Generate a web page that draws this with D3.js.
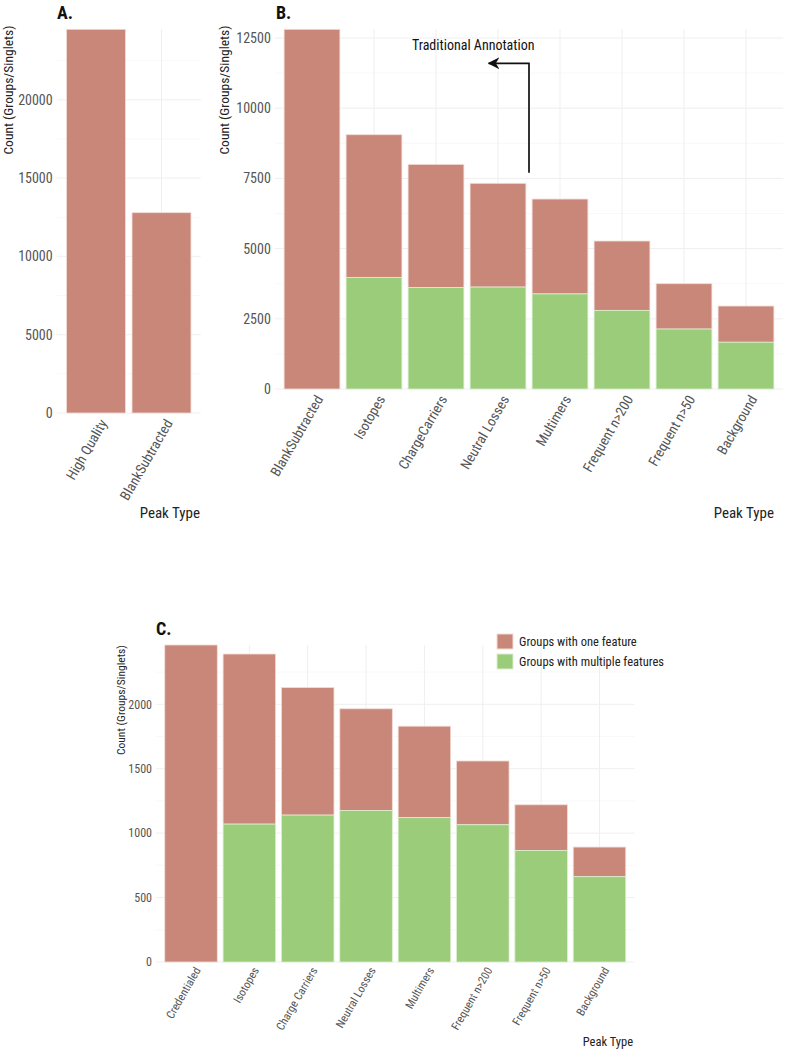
<!DOCTYPE html>
<html>
<head>
<meta charset="utf-8">
<script src="https://cdn.jsdelivr.net/npm/d3@7"></script>
<style>
  body { margin: 0; background: #fff; }
  text { font-family: "Roboto Condensed", Roboto, sans-serif; }
</style>
</head>
<body>
<svg id="fig" width="790" height="1050"></svg>
<script>
const colOne = "#c88778";
const colMulti = "#9acc7a";

// panel A
const catsA = ["High Quality", "BlankSubtracted"];
const totalA = [24500, 12790];
const ticksA = [0, 5000, 10000, 15000, 20000];

// panel B
const catsB = ["BlankSubtracted", "Isotopes", "ChargeCarriers", "Neutral Losses",
  "Multimers", "Frequent n>200", "Frequent n>50", "Background"];
const totalB = [12810, 9055, 8000, 7325, 6765, 5270, 3750, 2955];
const multiB = [0, 3975, 3610, 3630, 3385, 2800, 2135, 1665];
const ticksB = [0, 2500, 5000, 7500, 10000, 12500];

// panel C
const catsC = ["Credentialed", "Isotopes", "Charge Carriers", "Neutral Losses",
  "Multimers", "Frequent n>200", "Frequent n>50", "Background"];
const totalC = [2460, 2390, 2130, 1965, 1830, 1560, 1220, 892];
const multiC = [0, 1070, 1140, 1175, 1120, 1065, 865, 662];
const ticksC = [0, 500, 1000, 1500, 2000];

const legendLabels = ["Groups with one feature", "Groups with multiple features"];

const svg = d3.select("#fig");

function drawPanel(o) {
  const g = svg.append("g");
  const x = d3.scaleBand().domain(o.cats).range([o.left, o.right])
    .paddingInner(0.1).paddingOuter(0.15);
  const y = d3.scaleLinear().domain([0, o.ymax]).range([o.bottom, o.top]);

  // grid
  const half = ticks => {
    const step = ticks[1] - ticks[0];
    return d3.range(step / 2, o.ymax, step);
  };
  g.selectAll(".minor").data(half(o.ticks)).join("line")
    .attr("x1", o.left).attr("x2", o.right)
    .attr("y1", d => y(d)).attr("y2", d => y(d))
    .attr("stroke", "#f6f6f6").attr("stroke-width", 0.8);
  g.selectAll(".major").data(o.ticks).join("line")
    .attr("x1", o.left).attr("x2", o.right)
    .attr("y1", d => y(d)).attr("y2", d => y(d))
    .attr("stroke", "#efefef").attr("stroke-width", 1);
  g.selectAll(".vgrid").data(o.cats).join("line")
    .attr("x1", d => x(d) + x.bandwidth() / 2).attr("x2", d => x(d) + x.bandwidth() / 2)
    .attr("y1", o.top).attr("y2", o.bottom)
    .attr("stroke", "#efefef").attr("stroke-width", 1);

  // bars
  const rows = o.cats.map((c, i) => ({ c, total: o.total[i], multi: o.multi ? o.multi[i] : 0 }));
  g.selectAll(".one").data(rows).join("rect")
    .attr("x", d => x(d.c)).attr("width", x.bandwidth())
    .attr("y", d => y(d.total)).attr("height", d => y(d.multi) - y(d.total))
    .attr("fill", colOne).attr("stroke", "#f3dcd6").attr("stroke-width", 0.8);
  g.selectAll(".multi").data(rows.filter(d => d.multi > 0)).join("rect")
    .attr("x", d => x(d.c)).attr("width", x.bandwidth())
    .attr("y", d => y(d.multi)).attr("height", d => y(0) - y(d.multi))
    .attr("fill", colMulti).attr("stroke", "#dcefcf").attr("stroke-width", 0.8);

  // axes
  const ya = g.append("g").attr("transform", `translate(${o.left},0)`)
    .call(d3.axisLeft(y).tickValues(o.ticks).tickSize(0).tickPadding(4).tickFormat(d3.format("d")));
  ya.select(".domain").remove();
  ya.selectAll("text").attr("fill", "#555").style("font-size", o.tickSize + "px");

  const xa = g.append("g").attr("transform", `translate(0,${o.bottom})`)
    .call(d3.axisBottom(x).tickSize(0));
  xa.select(".domain").remove();
  xa.selectAll("text")
    .attr("fill", "#555").style("font-size", o.catSize + "px")
    .attr("text-anchor", "end").attr("y", 0).attr("dy", "0.71em")
    .attr("transform", `translate(${o.catDx},${o.catDy}) rotate(-60)`);

  // titles
  svg.append("text").attr("x", o.labelX).attr("y", o.labelY)
    .attr("text-anchor", "start").attr("font-weight", "bold")
    .style("font-size", "18px").attr("fill", "#111").text(o.label);
  svg.append("text")
    .attr("transform", `translate(${o.yTitleX},${o.yTitleY}) rotate(-90)`)
    .attr("text-anchor", "middle").attr("dominant-baseline", "central")
    .style("font-size", o.titleSize + "px").attr("fill", "#222")
    .text("Count (Groups/Singlets)");
  svg.append("text").attr("x", o.xTitleX).attr("y", o.xTitleY)
    .attr("text-anchor", "end").style("font-size", o.xTitleSize + "px")
    .attr("fill", "#222").text("Peak Type");

  return { g, x, y };
}

drawPanel({
  cats: catsA, total: totalA, ticks: ticksA, ymax: 24500,
  left: 56.7, right: 200.8, top: 29.3, bottom: 413,
  tickSize: 14, catSize: 14, titleSize: 13.5, xTitleSize: 15, catDx: 3, catDy: 5,
  label: "A.", labelX: 57, labelY: 19,
  yTitleX: 8, yTitleY: 90, xTitleX: 200, xTitleY: 518
});

const pB = drawPanel({
  cats: catsB, total: totalB, multi: multiB, ticks: ticksB, ymax: 12810,
  left: 274.8, right: 783.2, top: 29.3, bottom: 389,
  tickSize: 14, catSize: 14, titleSize: 13.5, xTitleSize: 15, catDx: 3, catDy: 5,
  label: "B.", labelX: 276, labelY: 19,
  yTitleX: 224, yTitleY: 90, xTitleX: 774, xTitleY: 518
});

// traditional annotation arrow in panel B
const annX = k => pB.x(catsB[0]) + pB.x.bandwidth() / 2 + k * pB.x.step();
const arrowPts = [[3.5, 7700], [3.5, 11600], [2.85, 11600]];
svg.append("defs").append("marker")
  .attr("id", "head").attr("viewBox", "0 0 10 10").attr("refX", 9).attr("refY", 5)
  .attr("markerWidth", 7).attr("markerHeight", 7).attr("markerUnits", "strokeWidth")
  .attr("orient", "auto")
  .append("path").attr("d", "M0,0 L10,5 L0,10 L3,5 Z").attr("fill", "#111");
pB.g.append("path")
  .attr("d", d3.line().x(d => annX(d[0])).y(d => pB.y(d[1]))(arrowPts))
  .attr("fill", "none").attr("stroke", "#111").attr("stroke-width", 1.7)
  .attr("marker-end", "url(#head)");
pB.g.append("text").attr("x", annX(2.6)).attr("y", pB.y(12250))
  .attr("text-anchor", "middle").attr("dominant-baseline", "central")
  .style("font-size", "14px").attr("fill", "#111").text("Traditional Annotation");

drawPanel({
  cats: catsC, total: totalC, multi: multiC, ticks: ticksC, ymax: 2460,
  left: 156, right: 634.5, top: 645, bottom: 962,
  tickSize: 12, catSize: 11.5, titleSize: 11.5, xTitleSize: 12.5, catDx: 3, catDy: 4,
  label: "C.", labelX: 156, labelY: 635,
  yTitleX: 121, yTitleY: 700, xTitleX: 633, xTitleY: 1046
});

// legend for panel C
const leg = svg.append("g").attr("transform", "translate(497,634)");
const legCols = [colOne, colMulti];
leg.selectAll("rect").data(legendLabels).join("rect")
  .attr("x", 0).attr("y", (d, i) => i * 20).attr("width", 16).attr("height", 15)
  .attr("fill", (d, i) => legCols[i]).attr("stroke", (d, i) => i ? "#dcefcf" : "#f3dcd6");
leg.selectAll("text").data(legendLabels).join("text")
  .attr("x", 22).attr("y", (d, i) => i * 20 + 7.5).attr("dominant-baseline", "central")
  .style("font-size", "12.5px").attr("fill", "#222").text(d => d);
</script>
</body>
</html>
